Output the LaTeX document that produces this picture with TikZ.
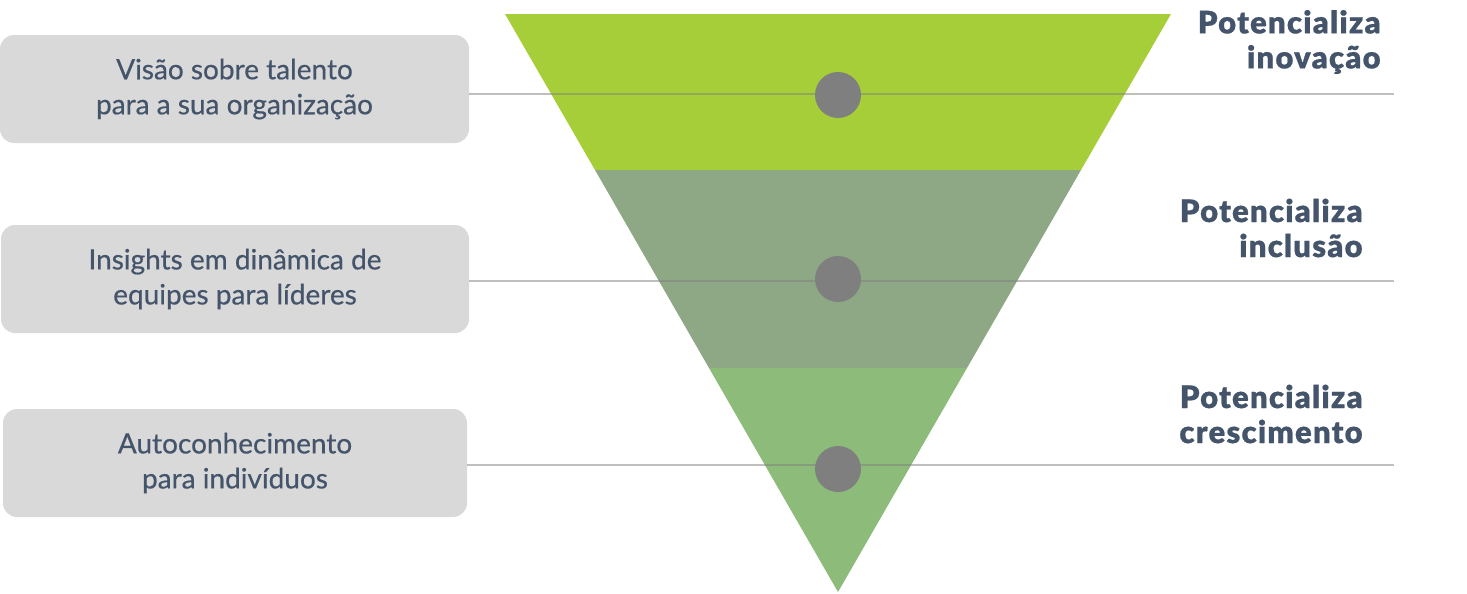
\documentclass[tikz,border=0pt]{standalone}
\usepackage{fontspec}
\setmainfont{Lato}[FakeBold=0.5]
\newfontfamily\heavyfont{Lato Black}[LetterSpace=4,FakeBold=0.6]
\definecolor{txt}{HTML}{44546A}
\definecolor{gA}{HTML}{A6CE39}
\definecolor{gB}{HTML}{8EA886}
\definecolor{gC}{HTML}{8CBB7A}
\definecolor{boxfill}{HTML}{D9D9D9}
\definecolor{dot}{HTML}{7F7F7F}
\begin{document}
\begin{tikzpicture}[x=0.5pt,y=-0.5pt,
  leftbox/.style={draw=none,fill=boxfill,rounded corners=7pt,minimum height=54pt,
    align=center,text=txt,font=\fontsize{14}{17.5}\selectfont,inner sep=0pt},
  gain/.style={anchor=east,align=right,text=txt,font=\fontsize{15.5}{17.5}\selectfont\heavyfont,inner sep=0pt},
  guide/.style={draw=black!50,draw opacity=0.5,line width=1pt},
  dotnode/.style={circle,fill=dot,minimum size=23pt,inner sep=0pt}]
\useasboundingbox (0,0) rectangle (1467,594);
% funnel
\fill[gA] (505,14) -- (1171,14) -- (1081,170) -- (595,170) -- cycle;
\fill[gB] (595,170) -- (1081,170) -- (967,368) -- (709,368) -- cycle;
\fill[gC] (709,368) -- (967,368) -- (838,592) -- cycle;
% boxes
\node[leftbox,minimum width=234.5pt] (b1) at (234.5,89) {Visão sobre talento\\para a sua organização};
\node[leftbox,minimum width=234pt] (b2) at (235,279) {Insights em dinâmica de\\equipes para líderes};
\node[leftbox,minimum width=232pt] (b3) at (235,463) {Autoconhecimento\\para indivíduos};
% guide ends
\coordinate (e1) at (1394,94);
\coordinate (e2) at (1394,281);
\coordinate (e3) at (1394,465);
\draw[guide] (b1.east |- e1) -- (e1);
\draw[guide] (b2.east |- e2) -- (e2);
\draw[guide] (b3.east |- e3) -- (e3);
% dots
\node[dotnode] (d1) at (838,95) {};
\node[dotnode] (d2) at (838,279) {};
\node[dotnode] (d3) at (838,469) {};
% right labels
\node[gain] (r1) at (1381,42) {Potencializa\\inovação};
\node[gain] (r2) at (1363,228) {Potencializa\\inclusão};
\node[gain] (r3) at (1363,414) {Potencializa\\crescimento};
\end{tikzpicture}
\end{document}
